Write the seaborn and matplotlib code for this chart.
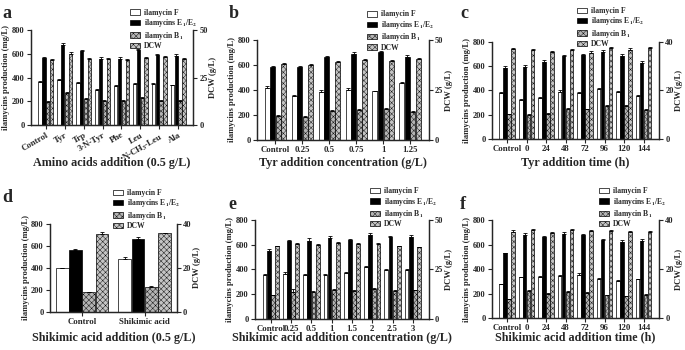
import numpy as np
import pandas as pd
import matplotlib
matplotlib.use("Agg")
import matplotlib.pyplot as plt
import seaborn as sns
from matplotlib.patches import Patch

# ---- data ----
series = ['ilamycin F', 'ilamycins E$_1$/E$_2$', 'ilamycin B$_1$', 'DCW']

# a: amino acids addition
a_cats = ['Control', 'Tyr', 'Trp', '3-N-Tyr', 'Phe', 'Leu', 'N-CH$_3$-Leu', 'Ala']
a_F = [360, 380, 355, 295, 330, 345, 348, 335]
a_E = [565, 675, 620, 555, 555, 630, 590, 578]
a_B = [195, 270, 220, 205, 200, 228, 205, 205]
a_DCW = [34.4, 37.5, 35.0, 34.9, 34.4, 35.1, 35.6, 35.0]
a_errF = [12, 8, 10, 12, 10, 8, 8, 6]
a_errE = [10, 15, 15, 18, 18, 12, 10, 18]
a_errB = [6, 10, 6, 8, 8, 10, 6, 8]
a_errD = [0.4, 1.2, 0.3, 0.3, 0.3, 0.5, 1.0, 0.3]

# b: Tyr addition concentration
b_cats = ['Control', '0.25', '0.5', '0.75', '1', '1.25']
b_F = [418, 350, 382, 400, 390, 452]
b_E = [582, 585, 660, 690, 700, 662]
b_B = [195, 185, 228, 242, 250, 225]
b_DCW = [38.1, 37.5, 38.8, 40.1, 39.7, 40.5]
b_errF = [15, 8, 15, 15, 4, 10]
b_errE = [10, 6, 15, 12, 12, 18]
b_errB = [6, 5, 8, 4, 8, 6]
b_errD = [0.3, 0.5, 0.7, 0.5, 0.5, 0.3]

# c: Tyr addition time
c_cats = ['Control', '0', '24', '48', '72', '96', '120', '144']
c_F = [378, 318, 338, 390, 378, 410, 385, 352]
c_E = [582, 595, 635, 685, 690, 720, 688, 630]
c_B = [205, 198, 207, 248, 245, 275, 275, 240]
c_DCW = [37.1, 36.75, 36.0, 36.75, 35.6, 37.5, 36.9, 37.5]
c_errF = [6, 8, 6, 10, 12, 12, 12, 12]
c_errE = [20, 18, 20, 8, 8, 10, 15, 15]
c_errB = [5, 5, 5, 6, 6, 5, 5, 5]
c_errD = [0.3, 0.3, 0.3, 0.5, 0.5, 0.3, 0.6, 0.3]

# d: shikimic acid addition
d_cats = ['Control', 'Shikimic acid']
d_F = [395, 480]
d_E = [565, 665]
d_B = [180, 230]
d_DCW = [35.5, 35.75]
d_errF = [8, 15]
d_errE = [10, 15]
d_errB = [5, 6]
d_errD = [0.8, 0.3]

# e: shikimic acid addition concentration
e_cats = ['Control', '0.25', '0.5', '1', '1.5', '2', '2.5', '3']
e_F = [355, 365, 352, 358, 368, 418, 398, 398]
e_E = [550, 625, 632, 655, 635, 680, 660, 665]
e_B = [190, 220, 215, 235, 228, 240, 228, 232]
e_DCW = [36.6, 37.8, 37.5, 38.1, 37.8, 37.8, 36.6, 36.1]
e_errF = [10, 12, 8, 8, 10, 6, 6, 4]
e_errE = [12, 15, 25, 15, 12, 15, 10, 15]
e_errB = [4, 20, 6, 8, 6, 8, 4, 5]
e_errD = [0.3, 0.5, 0.5, 0.6, 0.3, 0.3, 0.3, 0.3]

# f: shikimic acid addition time
f_cats = ['Control', '0', '24', '48', '72', '96', '120', '144']
f_F = [275, 332, 340, 348, 355, 322, 300, 318]
f_E = [528, 680, 660, 690, 678, 640, 622, 628]
f_B = [155, 218, 200, 212, 205, 188, 180, 190]
f_DCW = [35.25, 36.0, 34.75, 36.1, 35.75, 35.75, 35.25, 35.25]
f_errF = [5, 8, 5, 8, 15, 6, 10, 5]
f_errE = [4, 12, 12, 10, 8, 4, 15, 15]
f_errB = [4, 8, 5, 6, 5, 4, 4, 4]
f_errD = [0.6, 0.5, 0.4, 0.4, 0.3, 0.3, 0.4, 0.3]

colors = ['white', 'black', '#b4b4b4', '#c4c4c4']
hatches = ['', '', 'xxxxxx', 'xxxxxx']

sns.set_style("ticks")
plt.rcParams['font.family'] = ['Liberation Serif', 'DejaVu Serif']
plt.rcParams['font.weight'] = 'bold'
plt.rcParams['axes.labelweight'] = 'bold'
plt.rcParams['mathtext.fontset'] = 'stix'
plt.rcParams['mathtext.default'] = 'bf'
plt.rcParams['hatch.linewidth'] = 0.3
plt.rcParams['hatch.color'] = '#9a9a9a'

pal = dict(zip(series, colors))


def add_err(ax, cont, errs):
    xs = [b.get_x() + b.get_width() / 2 for b in cont]
    hs = [b.get_height() for b in cont]
    ax.errorbar(xs, hs, yerr=[np.zeros(len(errs)), errs], fmt='none',
                ecolor='black', elinewidth=0.6, capsize=1.5, capthick=0.6)


def draw_panel(rect, cats, F, E, B, DCW, errs, dcw_max, xlabel, letter,
               letter_pos, leg_pos, xlabel_y, rot=0, width=0.82, gap=0.1):
    ax = fig.add_axes(rect)
    left = pd.DataFrame({
        'cat': cats * 3,
        'series': [series[0]] * len(cats) + [series[1]] * len(cats) + [series[2]] * len(cats),
        'value': F + E + B,
    })
    right = pd.DataFrame({'cat': cats, 'series': [series[3]] * len(cats), 'value': DCW})
    sns.barplot(data=left, x='cat', y='value', hue='series', hue_order=series,
                order=cats, palette=pal, errorbar=None, width=width, gap=gap,
                dodge=True, edgecolor='black', linewidth=0.5, legend=False, ax=ax)
    ax2 = ax.twinx()
    sns.barplot(data=right, x='cat', y='value', hue='series', hue_order=series,
                order=cats, palette=pal, errorbar=None, width=width, gap=gap,
                dodge=True, edgecolor='black', linewidth=0.5, legend=False, ax=ax2)
    left_conts = [c for c in ax.containers if len(c) > 0]
    right_conts = [c for c in ax2.containers if len(c) > 0]
    for cont, h, e in zip(left_conts, hatches[:3], errs[:3]):
        for bar in cont:
            bar.set_hatch(h)
        add_err(ax, cont, e)
    for cont in right_conts:
        for bar in cont:
            bar.set_hatch(hatches[3])
        add_err(ax2, cont, errs[3])

    ax.set_ylim(0, 800)
    ax.set_yticks([0, 200, 400, 600, 800])
    ax2.set_ylim(0, dcw_max)
    ax2.set_yticks([0, dcw_max / 2, dcw_max])
    ax2.set_yticklabels([str(int(v)) for v in [0, dcw_max / 2, dcw_max]])
    ax.set_xlabel('')
    ax.set_ylabel('ilamycins production (mg/L)', fontsize=6.2, fontweight='bold', labelpad=1)
    ax2.set_ylabel('DCW (g/L)', fontsize=6.2, fontweight='bold', labelpad=1)
    for a in (ax, ax2):
        a.spines['top'].set_visible(False)
        a.tick_params(direction='out', length=3, width=0.8, labelsize=6, pad=1.5)
        for s in a.spines.values():
            s.set_linewidth(0.9)
    if rot:
        plt.setp(ax.get_xticklabels(), rotation=rot, ha='right', rotation_mode='anchor')
    for t in ax.get_xticklabels() + ax.get_yticklabels() + ax2.get_yticklabels():
        t.set_fontweight('bold')
    ax.tick_params(axis='x', labelsize=6.3)

    x0, y0, w, h = rect
    fig.text(x0 + w / 2, xlabel_y, xlabel, ha='center', va='center',
             fontsize=8.7, fontweight='bold')
    fig.text(letter_pos[0], letter_pos[1], letter, ha='left', va='top',
             fontsize=13, fontweight='bold')
    handles = [Patch(facecolor=c, edgecolor='black', hatch=hh, linewidth=0.5)
               for c, hh in zip(colors, hatches)]
    fig.legend(handles, series, loc='upper left', bbox_to_anchor=leg_pos,
               frameon=False, fontsize=5.5, handlelength=1.3, handleheight=0.7,
               labelspacing=0.05, handletextpad=0.5, borderaxespad=0, borderpad=0)
    return ax


fig = plt.figure(figsize=(6.85, 3.5), dpi=100)

draw_panel([0.045, 0.643, 0.237, 0.271], a_cats, a_F, a_E, a_B, a_DCW,
           [a_errF, a_errE, a_errB, a_errD], 50, 'Amino acids addition (0.5 g/L)',
           'a', (0.004, 0.985), (0.19, 0.975), 0.535, rot=30)
draw_panel([0.375, 0.600, 0.251, 0.286], b_cats, b_F, b_E, b_B, b_DCW,
           [b_errF, b_errE, b_errB, b_errD], 50, 'Tyr addition concentration (g/L)',
           'b', (0.334, 0.985), (0.536, 0.97), 0.535)
draw_panel([0.718, 0.603, 0.244, 0.277], c_cats, c_F, c_E, c_B, c_DCW,
           [c_errF, c_errE, c_errB, c_errD], 40, 'Tyr addition time (h)',
           'c', (0.672, 0.985), (0.843, 0.98), 0.535)
draw_panel([0.073, 0.109, 0.185, 0.251], d_cats, d_F, d_E, d_B, d_DCW,
           [d_errF, d_errE, d_errB, d_errD], 40, 'Shikimic acid addition (0.5 g/L)',
           'd', (0.004, 0.46), (0.165, 0.46), 0.035, width=0.85, gap=0.03)
draw_panel([0.372, 0.089, 0.254, 0.283], e_cats, e_F, e_E, e_B, e_DCW,
           [e_errF, e_errE, e_errB, e_errD], 50, 'Shikimic acid addition concentration (g/L)',
           'e', (0.334, 0.44), (0.540, 0.465), 0.035)
draw_panel([0.718, 0.091, 0.244, 0.280], f_cats, f_F, f_E, f_B, f_DCW,
           [f_errF, f_errE, f_errB, f_errD], 40, 'Shikimic acid addition time (h)',
           'f', (0.672, 0.44), (0.875, 0.465), 0.035)

fig.savefig('out.png', dpi=100)
